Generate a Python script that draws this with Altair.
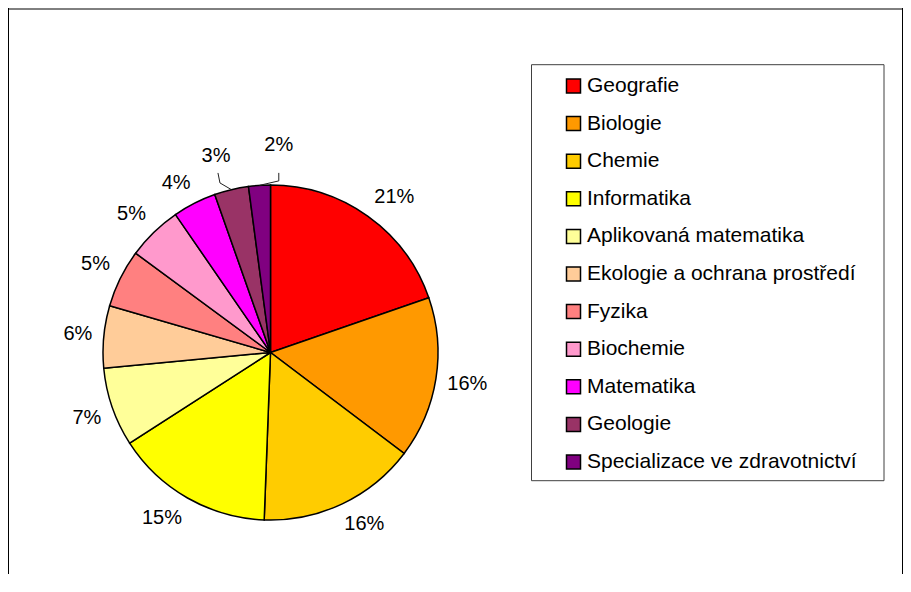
import altair as alt
import pandas as pd

# Data
names = ["Geografie", "Biologie", "Chemie", "Informatika", "Aplikovaná matematika",
         "Ekologie a ochrana prostředí", "Fyzika", "Biochemie", "Matematika",
         "Geologie", "Specializace ve zdravotnictví"]
shares = [19.7, 15.6, 15.3, 15.3, 7.6, 6.0, 5.6, 5.3, 4.2, 3.3, 2.1]
labels = ["21%", "16%", "16%", "15%", "7%", "6%", "5%", "5%", "4%", "3%", "2%"]
colors = ["#FF0000", "#FF9900", "#FFCC00", "#FFFF00", "#FFFF99", "#FFCC99",
          "#FF8080", "#FF99CC", "#FF00FF", "#993366", "#800080"]

df = pd.DataFrame({"name": names, "share": shares, "label": labels,
                   "idx": list(range(len(names)))})

W, H = 895, 566
CX, CY = 262.5, 344.5
R = 167.5
R0 = 179
B = 10
FONT = "Liberation Sans"

pie = alt.Chart(df).mark_arc(radius=R, stroke="black", strokeWidth=1.5).encode(
    theta=alt.Theta("share:Q", stack=True),
    order=alt.Order("idx:Q", sort="ascending"),
    x=alt.value(CX),
    y=alt.value(CY),
    color=alt.Color(
        "name:N",
        sort=names,
        scale=alt.Scale(domain=names, range=colors),
        legend=alt.Legend(
            title=None,
            orient="none",
            legendX=555,
            legendY=67.5,
            symbolType="square",
            symbolSize=196,
            symbolStrokeColor="black",
            symbolStrokeWidth=1.5,
            symbolOpacity=1,
            labelFont=FONT,
            labelFontSize=21,
            labelColor="black",
            labelOffset=3,
            rowPadding=15.6,
            padding=0,
            labelLimit=400,
        ),
    ),
)

# label placement computed from the slice angles
placed = (
    alt.Chart(df)
    .transform_joinaggregate(total="sum(share)")
    .transform_window(cum="sum(share)", sort=[alt.SortField("idx")], frame=[None, 0])
    .transform_calculate(m="2*PI*(datum.cum - datum.share/2)/datum.total")
    .transform_calculate(s="sin(datum.m)", c="cos(datum.m)",
                         hw="(11.12*(length(datum.label)-1)+17.78)/2")
    .transform_calculate(
        nx="datum.idx==9 ? -6 : datum.idx==10 ? 22 : 0",
        ny="datum.idx==9 ? -12.5 : datum.idx==10 ? -19 : 0",
    )
    .transform_calculate(
        lx=f"{CX} + {R0}*datum.s + datum.hw*clamp(2*datum.s,-1,1) + datum.nx",
        ly=f"{CY} - {R0}*datum.c - {B}*clamp(2*datum.c,-1,1) + datum.ny",
        sx=f"{CX} + {R}*datum.s",
        sy=f"{CY} - {R}*datum.c",
    )
)

text = placed.mark_text(font=FONT, fontSize=20, color="black",
                        align="center", baseline="middle").encode(
    x=alt.X("lx:Q", scale=None),
    y=alt.Y("ly:Q", scale=None),
    text="label:N",
)

leaders = placed.transform_filter("datum.idx >= 9").transform_calculate(
    ex="datum.lx + (datum.idx==9 ? 4 : 0)",
    ey="datum.ly + (datum.idx==9 ? 27 : 36)",
    tx="datum.lx + (datum.idx==9 ? 2 : 0)",
    ty="datum.ly + (datum.idx==9 ? 17 : 28)",
)
leader_diag = leaders.mark_rule(color="#222222", strokeWidth=1).encode(
    x=alt.X("sx:Q", scale=None), y=alt.Y("sy:Q", scale=None),
    x2="ex:Q", y2="ey:Q",
)
leader_vert = leaders.mark_rule(color="#222222", strokeWidth=1).encode(
    x=alt.X("ex:Q", scale=None), y=alt.Y("ey:Q", scale=None),
    x2="tx:Q", y2="ty:Q",
)

one = pd.DataFrame({"k": [0]})
legend_box = alt.Chart(one).mark_rect(fill="white", stroke="#404040", strokeWidth=1).encode(
    x=alt.value(523.5), x2=alt.value(876), y=alt.value(56.7), y2=alt.value(472.7)
)
frame_top = alt.Chart(one).mark_rule(color="black", strokeWidth=1).encode(
    x=alt.value(0), x2=alt.value(W), y=alt.value(1)
)
frame_left = alt.Chart(one).mark_rule(color="black", strokeWidth=1).encode(
    x=alt.value(0.5), y=alt.value(0), y2=alt.value(H)
)
frame_right = alt.Chart(one).mark_rule(color="black", strokeWidth=1).encode(
    x=alt.value(W - 0.5), y=alt.value(0), y2=alt.value(H)
)

chart = alt.layer(
    legend_box, frame_top, frame_left, frame_right, pie, leader_diag, leader_vert, text
).properties(
    width=W,
    height=H,
    padding=0,
    autosize=alt.AutoSizeParams(type="none"),
    background="white",
).configure_view(stroke=None)

chart.save("out.html", embed_options={"renderer": "svg", "actions": False})
